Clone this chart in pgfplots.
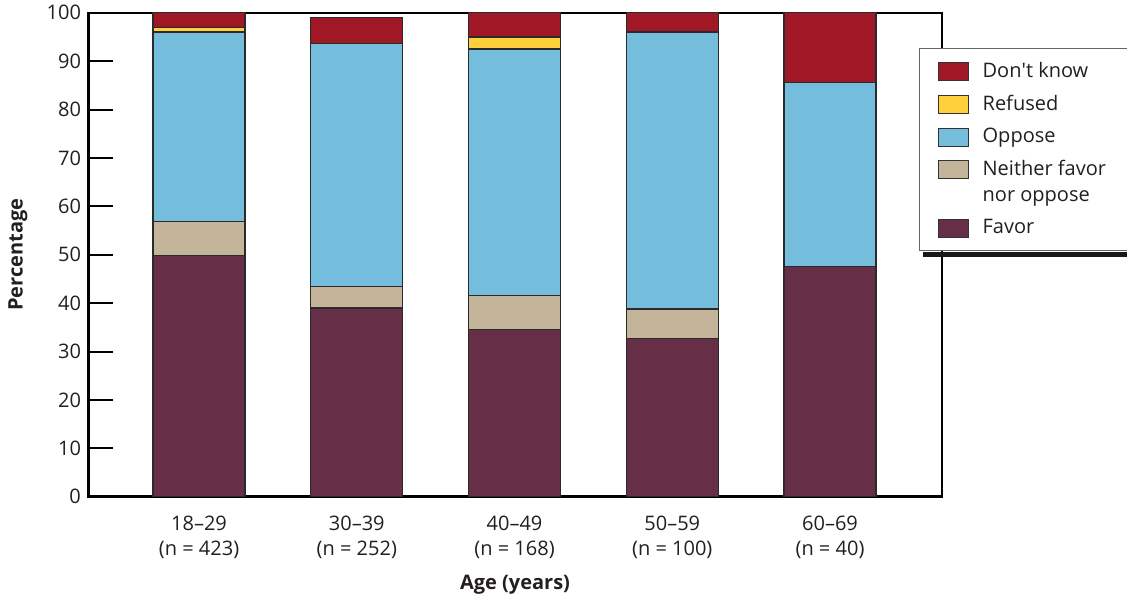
\documentclass[border=0pt]{standalone}
\usepackage{pgfplots}
\pgfplotsset{compat=1.18}
\usepackage{fontspec}
\setmainfont{Open Sans}
\definecolor{cFavor}{HTML}{662E47}
\definecolor{cNeither}{HTML}{C4B49A}
\definecolor{cOppose}{HTML}{74BDDC}
\definecolor{cRefused}{HTML}{FFD03C}
\definecolor{cDK}{HTML}{A01825}
\definecolor{cEdge}{HTML}{2A2A2A}
\definecolor{cText}{HTML}{231F20}
\begin{document}
\begin{tikzpicture}
\begin{axis}[
  scale only axis, width=427pt, height=242pt,
  ybar stacked, bar width=0.583,
  xmin=-0.704, xmax=4.71, ymin=0, ymax=100,
  xtick={0,1,2,3,4},
  xticklabels={{18--29\\(n = 423)},{30--39\\(n = 252)},{40--49\\(n = 168)},{50--59\\(n = 100)},{60--69\\(n = 40)}},
  xticklabel style={align=center, yshift=-6pt, font=\fontsize{10}{12.5}\selectfont, text=cText},
  x tick style={draw=none},
  ytick={0,10,...,100},
  yticklabel style={font=\fontsize{10}{12}\selectfont, text=cText},
  /pgf/number format/assume math mode=true,
  tick align=inside, ytick pos=left,
  major tick length=12.5pt,
  y tick style={line width=1pt, black},
  axis line style={line width=0.9pt, black},
  ylabel={Percentage},
  xlabel={Age (years)},
  ylabel style={at={(axis description cs:-0.082,0.5)}, anchor=center, font=\bfseries\fontsize{10}{12}\selectfont, text=cText},
  xlabel style={at={(axis description cs:0.5,-0.182)}, anchor=center, font=\bfseries\fontsize{10}{12}\selectfont, text=cText},
  every axis plot/.append style={draw=cEdge, line width=0.6pt},
  reverse legend,
  legend cell align=left,
  legend style={at={(rel axis cs:0.973,0.927)}, anchor=north west, name=lgd,
    draw=black!60, line width=0.7pt, fill=white,
    font=\fontsize{10}{13}\selectfont, text=cText,
    cells={align=left},
    /tikz/every odd column/.append style={column sep=5pt},
    inner xsep=9pt, inner ysep=5pt, row sep=3.3pt},
  legend image code/.code={\draw[#1, draw=black!80, line width=0.5pt] (0pt,-4.5pt) rectangle (15pt,4.5pt);},
]
\addplot[fill=cFavor] coordinates {(0,49.8) (1,39) (2,34.5) (3,32.7) (4,47.5)};
\addplot[fill=cNeither, legend image code/.code={\draw[fill=cNeither, draw=black!80, line width=0.5pt] (0pt,2pt) rectangle (15pt,11pt);}] coordinates {(0,7) (1,4.5) (2,7) (3,6.1) (4,0)};
\addplot[fill=cOppose] coordinates {(0,39.2) (1,50.2) (2,51) (3,57.2) (4,38)};
\addplot[fill=cRefused] coordinates {(0,1) (1,0) (2,2.5) (3,0) (4,0)};
\addplot[fill=cDK] coordinates {(0,3) (1,5.3) (2,5) (3,4) (4,14.5)};
\legend{Favor, {Neither favor\\nor oppose}, Oppose, Refused, \makebox[72pt][l]{Don\textquotesingle t know}}
\draw[line width=1.8pt, black] (rel axis cs:0,1) -- (rel axis cs:0,0) -- (rel axis cs:1,0);
\end{axis}
\draw[line width=2.4pt, black!90] ([xshift=2pt,yshift=-1.6pt]lgd.south west) -- ([xshift=2pt,yshift=-1.6pt]lgd.south east);
\pgfresetboundingbox
\path (-44pt,-52.15pt) rectangle (519.5pt,248.35pt);
\end{tikzpicture}
\end{document}
